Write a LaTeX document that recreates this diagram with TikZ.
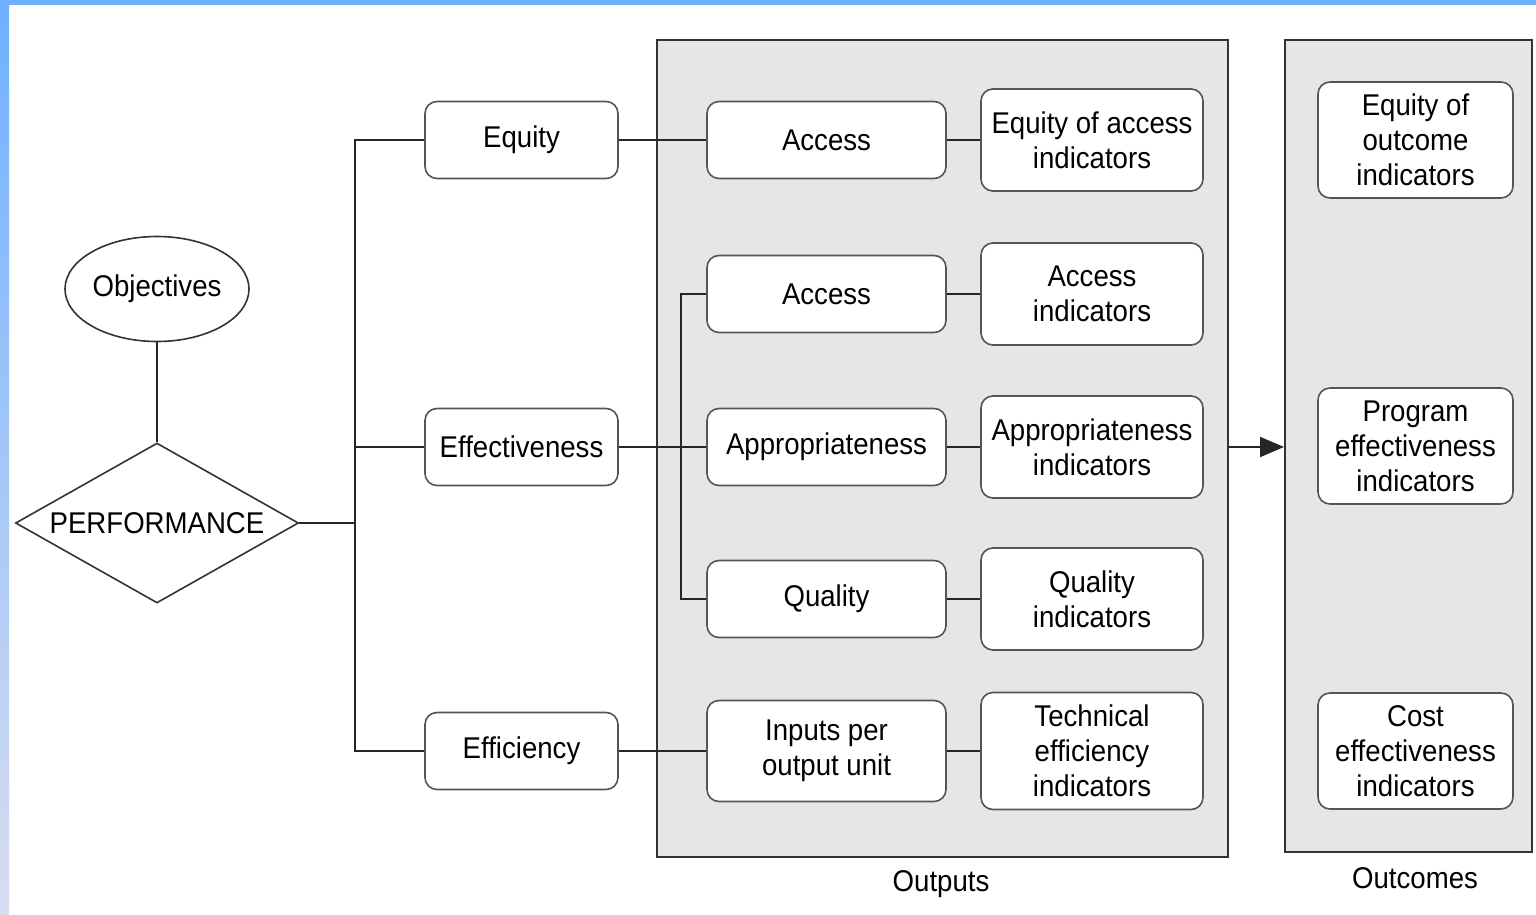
\documentclass[tikz,border=0pt]{standalone}
\usepackage{fontspec}
\setmainfont{Liberation Sans}[FakeStretch=0.92]
\usetikzlibrary{shapes.geometric,arrows.meta}
\definecolor{barblue}{HTML}{6FB0FF}
\definecolor{barlav}{HTML}{D8DDF0}
\definecolor{panelgray}{HTML}{E6E6E6}
\definecolor{boxline}{HTML}{555555}

\begin{document}
\begin{tikzpicture}[x=0.5pt,y=-0.5pt,
  every node/.style={font=\fontsize{15}{17.5}\selectfont},
  conn/.style={line width=1pt, black!85},
  rbox/.style={draw=boxline, line width=0.8pt, fill=white, rounded corners=6pt, align=center, inner sep=2pt},
  lvlone/.style={rbox, minimum width=96.5pt, minimum height=38.5pt},
  lvltwo/.style={rbox, minimum width=119.5pt, minimum height=38.5pt},
  indic/.style={rbox, minimum width=111pt, minimum height=51pt},
  outc/.style={rbox, minimum width=97.5pt, minimum height=58pt},
  panel/.style={draw=black!80, line width=1pt, fill=panelgray, inner sep=0pt}]
	\useasboundingbox (0,0) rectangle (1536,915);

	% Borde azul
	\fill [white] (0,0) rectangle (1536,915);
	\shade [top color=barblue, bottom color=barlav] (0,0) rectangle (9,915);
	\fill [barblue] (0,0) rectangle (1536,5);

	% Paneles
	\node [panel, minimum width=285.5pt, minimum height=408.5pt] (outputs) at (942.5,448.5) {};
	\node [panel, minimum width=123.5pt, minimum height=406pt] (outcomes) at (1408.5,446) {};
	\node (outputslbl) at (941,884) {Outputs};
	\node (outcomeslbl) at (1415,878) {Outcomes};

	% Objetivos y rendimiento
	\node [ellipse, draw=black!80, line width=0.8pt, inner sep=0pt, minimum width=92pt, minimum height=52.5pt] (obj) at (157,289) {Objectives};
	\node [diamond, draw=black!80, line width=0.8pt, aspect=1.77, inner sep=0pt, minimum width=141.5pt, minimum height=80pt] (perf) at (157,523) {PERFORMANCE};
	\coordinate (trunk) at (355,523);

	% Nivel 1
	\node [lvlone] (equity) at (521.5,140) {Equity};
	\node [lvlone] (effect) at (521.5,447) {Effectiveness};
	\node [lvlone] (effic) at (521.5,751) {Efficiency};

	% Nivel 2
	\node [lvltwo] (acca) at (826.5,140) {Access};
	\node [lvltwo] (accb) at (826.5,294) {Access};
	\node [lvltwo] (approp) at (826.5,447) {Appropriateness};
	\node [lvltwo] (qual) at (826.5,599) {Quality};
	\node [lvltwo, minimum height=50.5pt] (inputs) at (826.5,751) {Inputs per\\output unit};
	\coordinate (fork) at (681,447);

	% Indicadores
	\node [indic] (eqacc) at (1092,140) {Equity of access\\indicators};
	\node [indic] (accind) at (1092,294) {Access\\indicators};
	\node [indic] (appind) at (1092,447) {Appropriateness\\indicators};
	\node [indic] (qualind) at (1092,599) {Quality\\indicators};
	\node [indic, minimum height=58.5pt] (techind) at (1092,751) {Technical\\efficiency\\indicators};

	% Resultados
	\node [outc] (eqout) at (1415.5,140) {Equity of\\outcome\\indicators};
	\node [outc] (progeff) at (1415.5,446) {Program\\effectiveness\\indicators};
	\node [outc] (costeff) at (1415.5,751) {Cost\\effectiveness\\indicators};

	% Conectores
	\draw [conn] (obj) -- (perf);
	\draw [conn] (perf.east) -- (trunk);
	\draw [conn] (equity.west) -| (trunk) |- (effic.west);
	\draw [conn] (effect.west) -- (effect.west -| trunk);
	\draw [conn] (equity) -- (acca);
	\draw [conn] (effect) -- (approp);
	\draw [conn] (effic) -- (inputs);
	\draw [conn] (accb.west) -| (fork) |- (qual.west);
	\draw [conn] (acca) -- (eqacc);
	\draw [conn] (accb) -- (accind);
	\draw [conn] (approp) -- (appind);
	\draw [conn] (qual) -- (qualind);
	\draw [conn] (inputs) -- (techind);
	\coordinate (arrowrow) at (0,447);
	\draw [conn, -{Triangle[length=12pt,width=10pt]}] (outputs.east |- arrowrow) -- (outcomes.west |- arrowrow);
\end{tikzpicture}
\end{document}
